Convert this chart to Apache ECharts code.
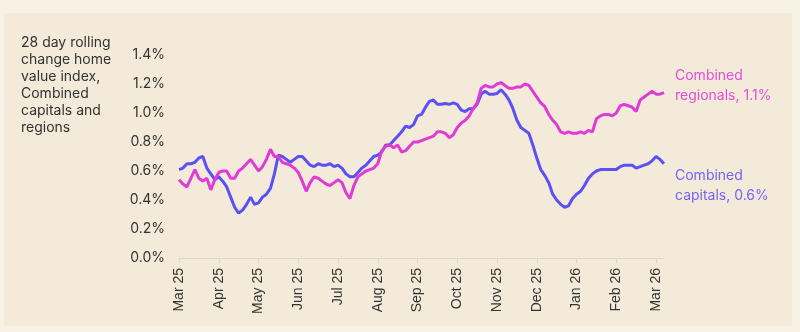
<!DOCTYPE html>
<html>
<head>
<meta charset="utf-8">
<script src="https://cdn.jsdelivr.net/npm/echarts@6/dist/echarts.min.js"></script>
<style>
html,body{margin:0;padding:0;background:#f7f1e6;}
#chart{width:800px;height:332px;}
</style>
</head>
<body>
<div id="chart"></div>
<script>
// Month tick labels (one every 10 points)
var monthLabels = ['Mar 25','Apr 25','May 25','Jun 25','Jul 25','Aug 25','Sep 25','Oct 25','Nov 25','Dec 25','Jan 26','Feb 26','Mar 26'];
var pointsPerMonth = 10;

// Combined capitals (% 28-day change)
var capitals = [
0.61,0.62,0.65,0.65,0.66,0.69,0.70,0.62,0.58,0.54,
0.56,0.53,0.49,0.42,0.35,0.31,0.33,0.37,0.42,0.37,
0.38,0.42,0.44,0.48,0.58,0.71,0.70,0.68,0.66,0.68,
0.70,0.70,0.67,0.64,0.63,0.65,0.64,0.64,0.65,0.63,
0.64,0.62,0.58,0.56,0.56,0.59,0.62,0.64,0.67,0.70,
0.71,0.73,0.78,0.78,0.81,0.84,0.87,0.91,0.90,0.92,
0.98,0.99,1.04,1.08,1.09,1.06,1.06,1.065,1.06,1.07,
1.06,1.02,1.01,1.03,1.03,1.06,1.13,1.15,1.13,1.13,
1.135,1.16,1.13,1.09,1.03,0.95,0.90,0.88,0.86,0.78,
0.69,0.61,0.57,0.52,0.44,0.40,0.37,0.35,0.36,0.41,
0.44,0.46,0.50,0.55,0.58,0.60,0.61,0.61,0.61,0.61,
0.61,0.63,0.64,0.64,0.64,0.62,0.63,0.64,0.65,0.67,
0.70,0.68,0.65
];

// Combined regionals (% 28-day change)
var regionals = [
0.54,0.51,0.49,0.55,0.61,0.55,0.53,0.55,0.47,0.54,
0.59,0.60,0.60,0.55,0.55,0.60,0.62,0.65,0.68,0.64,
0.60,0.63,0.68,0.75,0.70,0.70,0.66,0.65,0.64,0.62,
0.59,0.53,0.46,0.52,0.56,0.55,0.53,0.51,0.50,0.52,
0.54,0.52,0.45,0.41,0.50,0.56,0.58,0.60,0.61,0.62,
0.65,0.74,0.77,0.78,0.76,0.78,0.73,0.74,0.77,0.80,
0.80,0.81,0.82,0.83,0.84,0.87,0.87,0.86,0.83,0.85,
0.90,0.93,0.95,0.98,1.03,1.07,1.17,1.19,1.18,1.18,
1.20,1.21,1.19,1.17,1.17,1.18,1.18,1.20,1.19,1.15,
1.11,1.07,1.045,0.99,0.95,0.92,0.87,0.86,0.87,0.86,
0.86,0.87,0.86,0.88,0.87,0.96,0.98,0.99,0.99,0.98,
1.00,1.05,1.06,1.05,1.04,1.01,1.09,1.11,1.13,1.15,
1.13,1.13,1.14
];

var yTicks = [0, 0.2, 0.4, 0.6, 0.8, 1.0, 1.2, 1.4];
var titleLines = ['28 day rolling','change home','value index,','Combined','capitals and','regions'];
var regionalLabel = ['Combined','regionals, 1.1%'];
var capitalLabel = ['Combined','capitals, 0.6%'];

var categories = capitals.map(function(_, i){ return String(i); });

var chart = echarts.init(document.getElementById('chart'), null, {renderer:'canvas'});
var font = 'Inter, "Noto Sans", sans-serif';
chart.setOption({
  backgroundColor: '#f7f1e6',
  animation: false,
  grid: { left: 179, right: 136, top: 55, bottom: 74, containLabel: false },
  graphic: [
    { type:'rect', z:-10, silent:true, shape:{x:4,y:13,width:788,height:313}, style:{fill:'#f3ead9'} },
    { type:'text', left:21, top:34, style:{ text:titleLines.join('\n'), fill:'#333333', font:'14px '+font, lineHeight:17 } },
    { type:'text', left:675, top:66, style:{ text:regionalLabel.join('\n'), fill:'#e14fd7', font:'14px '+font, lineHeight:20 } },
    { type:'text', left:675, top:166, style:{ text:capitalLabel.join('\n'), fill:'#7564f3', font:'14px '+font, lineHeight:20 } }
  ],
  xAxis: {
    type: 'category',
    data: categories,
    boundaryGap: false,
    axisLine: { show:true, lineStyle:{ color:'#dcd6cc', width:1 } },
    axisTick: { show:true, interval: pointsPerMonth-1, length:5, lineStyle:{ color:'#dcd6cc' } },
    axisLabel: {
      interval: pointsPerMonth-1,
      rotate: 90,
      margin: 10,
      color: '#333333',
      fontSize: 14,
      fontFamily: '"Liberation Sans", Arial, sans-serif',
      formatter: function(v, i){ return i % pointsPerMonth === 0 ? monthLabels[i/pointsPerMonth] : ''; }
    },
    splitLine: { show:false }
  },
  yAxis: {
    type: 'value',
    min: yTicks[0],
    max: yTicks[yTicks.length-1],
    interval: 0.2,
    axisLine: { show:false },
    axisTick: { show:false },
    splitLine: { show:false },
    axisLabel: {
      margin: 14,
      color: '#333333',
      fontSize: 14,
      fontFamily: font,
      formatter: function(v){ return v.toFixed(1) + '%'; }
    }
  },
  series: [
    { name:'Combined capitals', type:'line', data:capitals, showSymbol:false, smooth:false,
      lineStyle:{ color:'#5b4ff6', width:3 }, itemStyle:{color:'#5b4ff6'} },
    { name:'Combined regionals', type:'line', data:regionals, showSymbol:false, smooth:false,
      lineStyle:{ color:'#e03bd6', width:3 }, itemStyle:{color:'#e03bd6'} }
  ]
});
</script>
</body>
</html>
